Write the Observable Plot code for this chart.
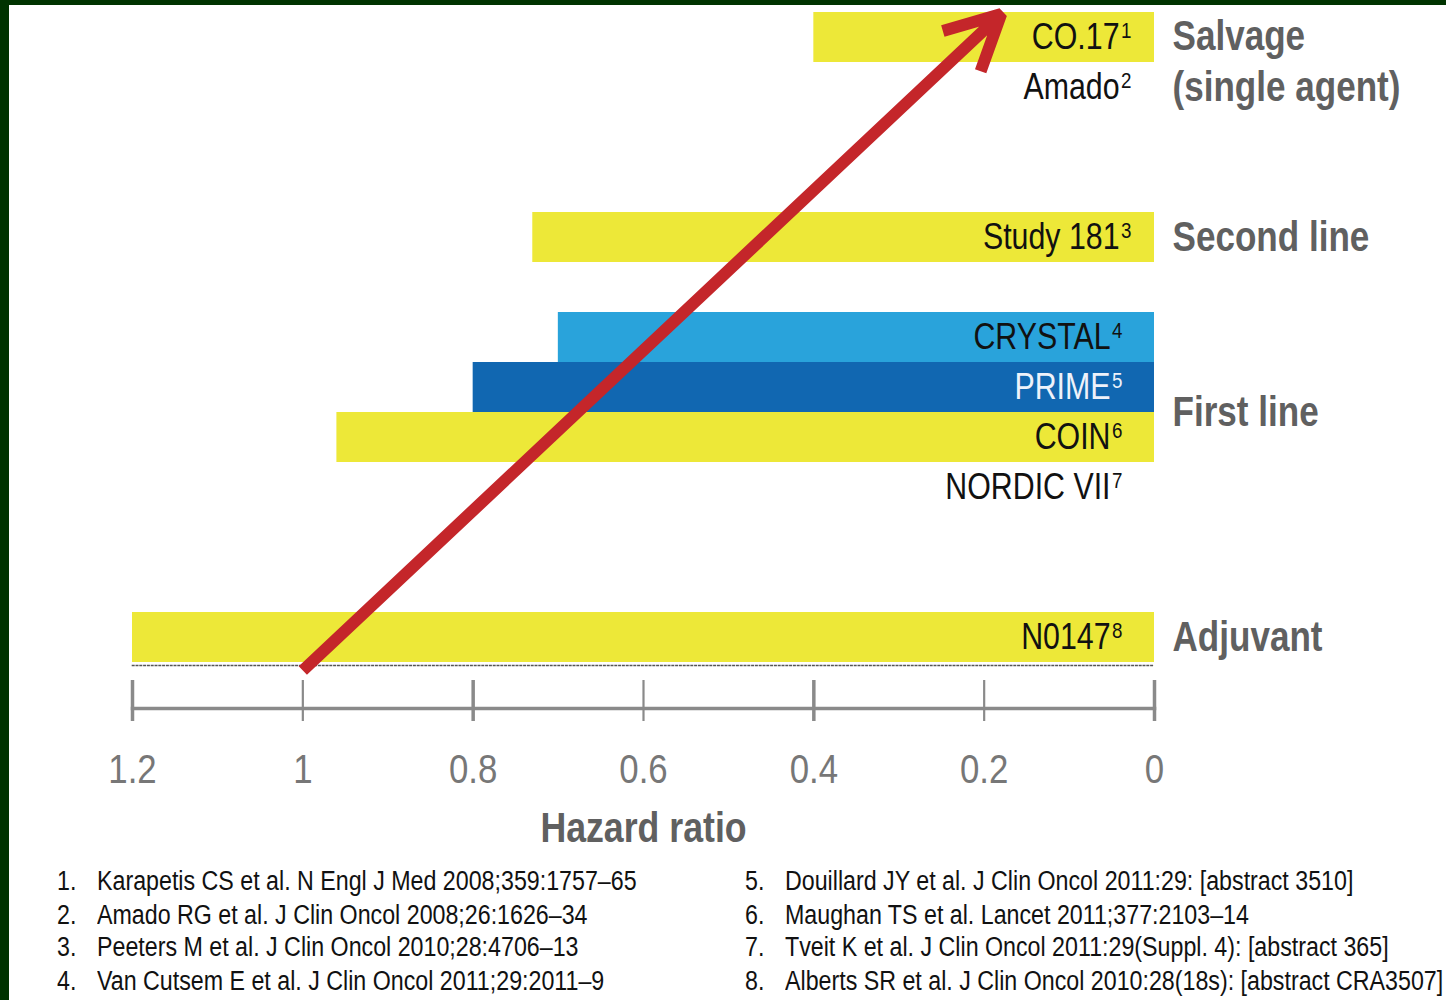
<!DOCTYPE html>
<html><head><meta charset="utf-8">
<script src="https://cdn.jsdelivr.net/npm/d3@7"></script>
<script src="https://cdn.jsdelivr.net/npm/@observablehq/plot@0.6"></script>
<style>
html,body{margin:0;padding:0;background:#003300;width:1446px;height:1000px;overflow:hidden;}
#panel{position:absolute;left:9px;top:5px;width:1437px;height:995px;background:#fff;overflow:hidden;}
#chart{position:absolute;left:0;top:0;}
.ref{position:absolute;font-family:"Liberation Sans","Arial",sans-serif;font-size:27px;color:#111;white-space:nowrap;line-height:33px;height:33px;}
.ref .n{position:absolute;left:0;top:0;display:inline-block;transform:scaleX(0.86);transform-origin:left center;}
.ref .t{position:absolute;left:40px;top:0;display:inline-block;transform:scaleX(0.86);transform-origin:left center;}
</style></head>
<body><div id="panel"><div id="chart"></div><div id="refs"></div></div>
<script>
// ---- data ----
const studies = ["CO.17", "Amado", "Study 181", "CRYSTAL", "PRIME", "COIN", "NORDIC VII", "N0147"];
const refNums = [1, 2, 3, 4, 5, 6, 7, 8];
const hazardRatios = [0.40, null, 0.73, 0.70, 0.80, 0.96, null, 1.20];
const studyGroups = ["Salvage\n(single agent)", "Salvage\n(single agent)", "Second line", "First line", "First line", "First line", "First line", "Adjuvant"];
const barColors = ["#EDE838", null, "#EDE838", "#29A3DB", "#1167B1", "#EDE838", null, "#EDE838"];
const labelColors = ["#111111", "#111111", "#111111", "#111111", "#EEF2FA", "#111111", "#111111", "#111111"];
const rowOrder = ["CO.17", "Amado", "", "", "Study 181", "", "CRYSTAL", "PRIME", "COIN", "NORDIC VII", "", "", "N0147"];
const groupNames = ["Salvage\n(single agent)", "Second line", "First line", "Adjuvant"];
const xTicks = [1.2, 1, 0.8, 0.6, 0.4, 0.2, 0];
const majorTicks = [1.2, 0.8, 0.4, 0];
const minorTicks = [1, 0.6, 0.2];
const axisTitle = "Hazard ratio";
const arrowHR = [1.0, 0.18];      // trend arrow: start and end hazard ratio
const arrowRow = [13.16, 0.03];   // trend arrow: start and end row position
const references = [
  "Karapetis CS et al. N Engl J Med 2008;359:1757–65",
  "Amado RG et al. J Clin Oncol 2008;26:1626–34",
  "Peeters M et al. J Clin Oncol 2010;28:4706–13",
  "Van Cutsem E et al. J Clin Oncol 2011;29:2011–9",
  "Douillard JY et al. J Clin Oncol 2011:29: [abstract 3510]",
  "Maughan TS et al. Lancet 2011;377:2103–14",
  "Tveit K et al. J Clin Oncol 2011:29(Suppl. 4): [abstract 365]",
  "Alberts SR et al. J Clin Oncol 2010:28(18s): [abstract CRA3507]"
];

// ---- derived tables ----
const table = studies.map((s, i) => ({
  study: s, ref: refNums[i], hr: hazardRatios[i], color: barColors[i],
  textColor: labelColors[i], group: studyGroups[i], row: rowOrder.indexOf(s)
}));
const groupTable = groupNames.map(g => ({
  name: g, y: d3.mean(table.filter(d => d.group === g), d => d.row + 0.5)
}));
const isUpper = d => d.group === groupNames[0] || d.group === groupNames[1];
const upper = table.filter(isUpper);
const lower = table.filter(d => !isUpper(d));

const FS = {study: 37, group: 42, tick: 40, title: 43};
const font = '"Liberation Sans", Arial, sans-serif';
const labelOpts = {x: () => 0, y: d => d.row + 0.5, text: "study", textAnchor: "end",
  fill: "textColor", fontSize: FS.study};

const chart = Plot.plot({
  width: 1437, height: 850,
  marginLeft: 123, marginRight: 292, marginTop: 7, marginBottom: 193,
  x: {domain: [1.2, 0], axis: null},
  y: {domain: [0, rowOrder.length], reverse: true, axis: null},
  color: {type: "identity"},
  style: {fontFamily: font, background: "transparent", overflow: "visible"},
  marks: [
    Plot.rectX(table.filter(d => d.hr != null), {x1: "hr", x2: () => 0, y1: "row", y2: d => d.row + 1, fill: "color"}),
    Plot.frame({anchor: "bottom", dy: 3, stroke: "#555", strokeDasharray: "1.4,2.4", strokeWidth: 1.6}),
    Plot.frame({anchor: "bottom", dy: 46, stroke: "#8a8a8a", strokeWidth: 3.5}),
    Plot.axisX(majorTicks, {anchor: "bottom", tickSize: 41, dy: 18, tickFormat: () => "", label: null, stroke: "#8a8a8a", strokeWidth: 3.5}),
    Plot.axisX(minorTicks, {anchor: "bottom", tickSize: 41, dy: 18, tickFormat: () => "", label: null, stroke: "#8a8a8a", strokeWidth: 2.2}),
    Plot.text(xTicks, {x: d => d, text: d => String(d), frameAnchor: "bottom", lineAnchor: "middle", dy: 108,
      fontSize: FS.tick, fill: "#777"}),
    Plot.text([axisTitle], {frameAnchor: "bottom", lineAnchor: "middle", dy: 166, fontSize: FS.title, fontWeight: "bold",
      fill: "#606060"}),
    Plot.arrow([0], {x1: () => arrowHR[0], y1: () => arrowRow[0], x2: () => arrowHR[1], y2: () => arrowRow[1],
      stroke: "#C4262A", strokeWidth: 12, headLength: 7.6, headAngle: 54, strokeLinecap: "butt", strokeLinejoin: "miter"}),
    Plot.text(upper, {...labelOpts, dx: -23}),
    Plot.text(lower, {...labelOpts, dx: -32}),
    Plot.text(groupTable, {x: () => 0, y: "y", text: "name", textAnchor: "start", dx: 18, dy: -3, fontSize: FS.group,
      fontWeight: "bold", fill: "#606060", lineHeight: 1.2})
  ]
});

// font size of a text element (own attribute or inherited from its group)
function sizeOf(t) {
  let el = t;
  while (el && el !== chart) {
    const fs = el.getAttribute && el.getAttribute("font-size");
    if (fs) return parseFloat(fs);
    el = el.parentNode;
  }
  return null;
}
const scaleBySize = {[FS.study]: 0.82, [FS.group]: 0.835, [FS.tick]: 0.87, [FS.title]: 0.83};

chart.querySelectorAll("text").forEach(t => {
  const fs = sizeOf(t);
  // superscript reference numbers on study labels
  if (fs === FS.study) {
    const row = table.find(d => d.study === t.textContent);
    if (row) {
      const ts = document.createElementNS("http://www.w3.org/2000/svg", "tspan");
      ts.setAttribute("font-size", "0.62em");
      ts.setAttribute("dy", "-0.5em");
      ts.setAttribute("dx", "0.08em");
      ts.textContent = String(row.ref);
      t.appendChild(ts);
    }
  }
  // horizontally condense text to mimic a narrow typeface
  const s = scaleBySize[fs];
  if (!s) return;
  const tr = t.getAttribute("transform") || "";
  t.setAttribute("transform", tr + ` scale(${s},1)`);
});
document.getElementById("chart").appendChild(chart);

// references
const refs = document.getElementById("refs");
const centers = [876, 910, 942, 976];
references.forEach((r, i) => {
  const div = document.createElement("div");
  div.className = "ref";
  div.style.left = (i < 4 ? 48 : 736) + "px";
  div.style.top = (centers[i % 4] - 16.5) + "px";
  div.innerHTML = `<span class="n">${i + 1}.</span><span class="t"></span>`;
  div.querySelector(".t").textContent = r;
  refs.appendChild(div);
});
</script></body></html>
